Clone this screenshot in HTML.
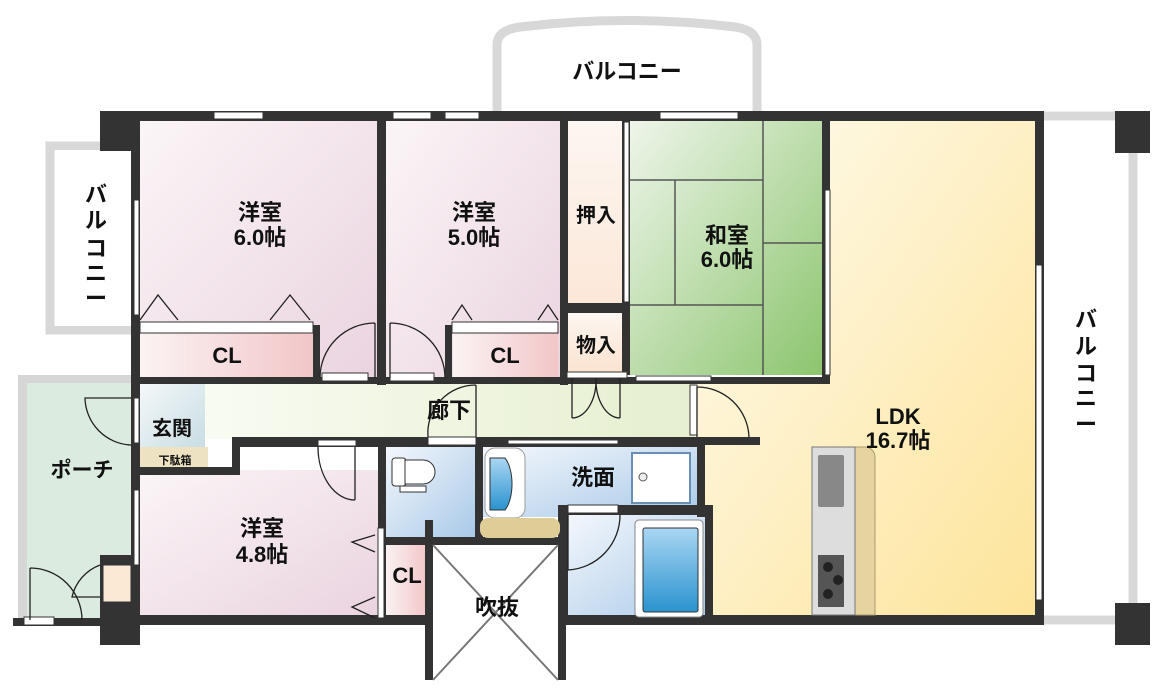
<!DOCTYPE html>
<html><head><meta charset="utf-8"><style>
html,body{margin:0;padding:0;background:#fff;width:1174px;height:693px;overflow:hidden}
svg text{font-family:"Liberation Sans","Noto Sans CJK JP",sans-serif;font-weight:bold;fill:#111}
</style></head><body>
<svg width="1174" height="693" viewBox="0 0 1174 693" xmlns="http://www.w3.org/2000/svg">
<defs>
<linearGradient id="pk" x1="0" y1="0" x2="1" y2="1"><stop offset="0" stop-color="#fbf5f7"/><stop offset="1" stop-color="#ead3df"/></linearGradient>
<linearGradient id="cl" x1="0" y1="0" x2="1" y2="0"><stop offset="0" stop-color="#fbf3f3"/><stop offset="1" stop-color="#f2c6c8"/></linearGradient>
<linearGradient id="gr" x1="0" y1="0" x2="1" y2="1"><stop offset="0" stop-color="#eef5ea"/><stop offset="1" stop-color="#8cc56e"/></linearGradient>
<linearGradient id="yl" x1="0" y1="0" x2="1" y2="1"><stop offset="0" stop-color="#fffcf0"/><stop offset="1" stop-color="#fde49a"/></linearGradient>
<linearGradient id="pe" x1="0" y1="0" x2="0" y2="1"><stop offset="0" stop-color="#fdf6f1"/><stop offset="1" stop-color="#fbe2cf"/></linearGradient>
<linearGradient id="hl" x1="0" y1="0" x2="1" y2="0"><stop offset="0" stop-color="#fbfdf7"/><stop offset="1" stop-color="#e6efcf"/></linearGradient>
<linearGradient id="bl" x1="0" y1="0" x2="1" y2="1"><stop offset="0" stop-color="#f3f7fc"/><stop offset="1" stop-color="#a9c9e8"/></linearGradient>
<linearGradient id="tub" x1="0" y1="0" x2="0" y2="1"><stop offset="0" stop-color="#aad6f2"/><stop offset="1" stop-color="#2a93cf"/></linearGradient>
<linearGradient id="ent" x1="0" y1="0" x2="1" y2="1"><stop offset="0" stop-color="#f4f8fa"/><stop offset="1" stop-color="#c9dde3"/></linearGradient>
</defs>
<path d="M497 111 V45 Q497 30 520 27 Q627 14 735 27 Q757 30 757 45 V111" fill="none" stroke="#d8d8d8" stroke-width="9"/>
<rect x="50" y="146" width="86" height="184" fill="none" stroke="#d8d8d8" stroke-width="9"/>
<rect x="55" y="150" width="76" height="176" fill="#fff"/>
<path d="M1043 116 H1118 M1133 150 V608 M1043 620 H1118" stroke="#d8d8d8" stroke-width="9" fill="none"/>
<rect x="18" y="375" width="118" height="250" fill="#d6d6d6"/>
<rect x="27" y="383" width="109" height="235" fill="#dcebdf"/>
<rect x="140" y="121" width="237" height="262" fill="url(#pk)"/>
<rect x="386" y="121" width="174" height="262" fill="url(#pk)"/>
<rect x="568" y="121" width="60" height="252" fill="url(#pe)"/>
<rect x="630" y="121" width="192" height="254" fill="url(#gr)"/>
<path d="M697 383 H830 V121 H1035 V615 H697Z" fill="url(#yl)"/>
<rect x="140" y="383" width="555" height="56" fill="url(#hl)"/>
<rect x="140" y="383" width="65" height="64" fill="url(#ent)"/>
<rect x="140" y="447" width="68" height="23" fill="#ede2c2"/>
<rect x="140" y="470" width="240" height="147" fill="url(#pk)"/>
<rect x="385" y="530" width="42" height="85" fill="url(#cl)"/>
<rect x="386" y="447" width="90" height="90" fill="url(#bl)"/>
<rect x="483" y="447" width="214" height="70" fill="url(#bl)"/>
<rect x="568" y="515" width="140" height="102" fill="url(#bl)"/>
<rect x="140" y="333" width="173" height="48" fill="url(#cl)"/>
<rect x="453" y="333" width="105" height="48" fill="url(#cl)"/>
<rect x="568" y="313" width="56" height="60" fill="url(#pe)"/>
<g stroke="#555" stroke-width="1.5">
<line x1="630" y1="180" x2="763" y2="180"/><line x1="675" y1="180" x2="675" y2="305"/>
<line x1="763" y1="121" x2="763" y2="375"/><line x1="763" y1="243" x2="822" y2="243"/>
<line x1="630" y1="305" x2="763" y2="305"/>
</g>
<g fill="#333">
<rect x="100" y="111" width="943" height="10"/>
<rect x="100" y="111" width="40" height="40"/>
<rect x="131" y="111" width="9" height="514"/>
<rect x="100" y="615" width="943" height="10"/>
<rect x="1035" y="111" width="9" height="514"/>
<rect x="1115" y="111" width="35" height="42"/>
<rect x="1115" y="603" width="35" height="42"/>
<rect x="377" y="111" width="9" height="274"/>
<rect x="560" y="111" width="8" height="274"/>
<rect x="622" y="121" width="8" height="254"/>
<rect x="822" y="111" width="8" height="272"/>
<rect x="313" y="325" width="7" height="56"/>
<rect x="445" y="325" width="7" height="56"/>
<rect x="560" y="303" width="70" height="10"/>
<rect x="140" y="377" width="690" height="7"/>
<rect x="232" y="437" width="465" height="10"/>
<rect x="140" y="467" width="100" height="8"/>
<rect x="232" y="437" width="8" height="38"/>
<rect x="690" y="437" width="70" height="8"/>
<rect x="378" y="447" width="8" height="178"/>
<rect x="475" y="447" width="8" height="95"/>
<rect x="386" y="537" width="180" height="8"/>
<rect x="425" y="520" width="8" height="100"/>
<rect x="558" y="505" width="10" height="120"/>
<rect x="560" y="505" width="145" height="10"/>
<rect x="697" y="437" width="8" height="80"/>
<rect x="705" y="505" width="8" height="120"/>
<rect x="425" y="545" width="8" height="135"/>
<rect x="558" y="545" width="8" height="135"/>
<rect x="100" y="555" width="40" height="90"/>
<rect x="13" y="618" width="90" height="8"/>
</g>
<rect x="433" y="545" width="125" height="135" fill="#fff"/>
<path d="M433 545 L558 680 M558 545 L433 680" stroke="#777" stroke-width="2"/>
<g fill="#fff" stroke="#333" stroke-width="1">
<rect x="214" y="112" width="49" height="7"/><rect x="393" y="112" width="38" height="7"/><rect x="445" y="112" width="34" height="7"/><rect x="660" y="112" width="78" height="7"/>
<rect x="134" y="200" width="5" height="115"/>
<rect x="1036" y="265" width="6" height="335"/>
<rect x="825" y="190" width="5" height="185"/>
<rect x="624" y="122" width="5" height="180"/>
<rect x="134" y="490" width="5" height="75"/>
<rect x="134" y="398" width="5" height="45"/>
<rect x="508" y="440" width="110" height="4"/>
<rect x="636" y="376" width="75" height="5"/>
<rect x="322" y="373" width="46" height="8"/><rect x="390" y="373" width="44" height="8"/>
<rect x="428" y="437" width="48" height="8"/><rect x="318" y="440" width="38" height="6"/>
<rect x="140" y="322" width="173" height="11"/><rect x="452" y="322" width="106" height="11"/>
<rect x="378" y="528" width="6" height="90"/>
<rect x="568" y="505" width="50" height="8"/>
<rect x="690" y="385" width="7" height="50"/>
<rect x="567" y="372" width="60" height="6"/>
<rect x="24" y="617" width="30" height="8"/>
</g>
<g fill="none" stroke="#222" stroke-width="1.3">
<path d="M375 323 V378 M375 323 A55 55 0 0 0 320 378"/>
<path d="M390 323 V378 M390 323 A55 55 0 0 1 445 378"/>
<path d="M476 385 V437 M476 385 A48 48 0 0 0 428 437"/>
<path d="M131 398 H85 A48 48 0 0 0 131 445"/>
<path d="M697 387 V437 M697 387 A52 52 0 0 1 749 437"/>
<path d="M355 447 V500 M318 447 A37 53 0 0 0 355 500"/>
<path d="M568 515 V570 M568 570 A55 55 0 0 0 620 515"/>
<path d="M572 378 V418 M572 418 A24 38 0 0 0 596 378 M620 378 V418 M620 418 A24 38 0 0 1 596 378"/>
<path d="M30 568 V620 M30 568 A52 52 0 0 1 82 620"/>
<path d="M100 565 A45 45 0 0 0 72 597 H100"/>
<path d="M375 535 L352 542 L375 552 M375 597 L352 607 L375 618"/>
<path d="M140 320 L158 295 L178 320 M270 320 L290 295 L310 320 M452 320 L462 305 L472 320 M538 320 L548 305 L558 320"/>
</g>
<rect x="103" y="565" width="28" height="37" fill="#fbe8d5" stroke="#333"/>
<rect x="392" y="458" width="14" height="28" rx="3" fill="#fff" stroke="#333"/>
<path d="M405 460 H423 A12 12 0 0 1 423 484 H405Z" fill="#fff" stroke="#333"/>
<rect x="400" y="486" width="26" height="6" fill="#fff" stroke="#333"/>
<rect x="485" y="448" width="40" height="70" rx="10" fill="#fff" stroke="#999"/>
<path d="M490 458 H505 A14 30 0 0 1 505 510 H490Z" fill="url(#tub)" stroke="#333"/>
<rect x="480" y="518" width="80" height="20" rx="8" fill="#e0cc97"/>
<rect x="632" y="453" width="58" height="50" fill="#fff" stroke="#6a8fb5" stroke-width="2"/>
<circle cx="643" cy="477" r="4" fill="#eee" stroke="#555"/>
<rect x="635" y="520" width="68" height="97" rx="4" fill="#fff" stroke="#888"/>
<rect x="643" y="528" width="55" height="84" rx="2" fill="url(#tub)" stroke="#333"/>
<path d="M855 447 H865 A10 10 0 0 1 875 457 V615 H855Z" fill="#e6d39f" stroke="#a99a6e"/>
<rect x="812" y="447" width="43" height="168" fill="#ddd" stroke="#777"/>
<rect x="818" y="455" width="26" height="52" rx="2" fill="#888"/>
<rect x="818" y="555" width="26" height="52" fill="#555"/>
<circle cx="828" cy="567" r="5" fill="#222"/><circle cx="838" cy="580" r="5" fill="#222"/><circle cx="828" cy="594" r="5" fill="#222"/>
<g font-size="22" text-anchor="middle">
<text x="627" y="79">バルコニー</text>
<text x="260" y="220">洋室</text><text x="260" y="245">6.0帖</text>
<text x="474" y="220">洋室</text><text x="474" y="245">5.0帖</text>
<text x="727" y="243">和室</text><text x="727" y="267">6.0帖</text>
<text x="596" y="222" font-size="20">押入</text>
<text x="596" y="352" font-size="20">物入</text>
<text x="227" y="363">CL</text><text x="505" y="363">CL</text>
<text x="449" y="418">廊下</text>
<text x="172" y="435" font-size="20">玄関</text>
<text x="175" y="464" font-size="11" font-weight="normal">下駄箱</text>
<text x="82" y="477" font-size="21">ポーチ</text>
<text x="593" y="485">洗面</text>
<text x="262" y="536">洋室</text><text x="262" y="562">4.8帖</text>
<text x="407" y="583">CL</text>
<text x="497" y="615">吹抜</text>
<text x="898" y="424">LDK</text><text x="898" y="448">16.7帖</text>
</g>
<g font-size="22" text-anchor="middle">
<text x="96" y="202">バ</text><text x="96" y="228">ル</text><text x="96" y="256">コ</text><text x="96" y="281">ニ</text><text x="96" y="306">ー</text>
<text x="1086" y="327">バ</text><text x="1086" y="354">ル</text><text x="1086" y="381">コ</text><text x="1086" y="406">ニ</text><text x="1086" y="432">ー</text>
</g>
</svg>
</body></html>
